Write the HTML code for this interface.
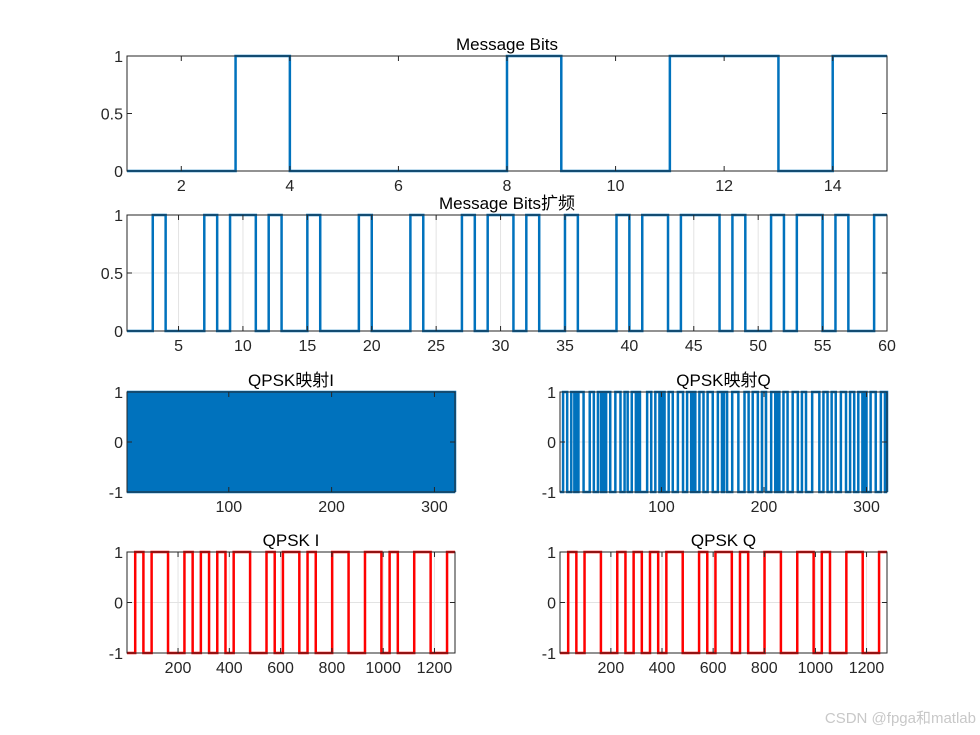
<!DOCTYPE html>
<html><head><meta charset="utf-8"><style>
html,body{margin:0;padding:0;background:#fff;}
svg{display:block;font-family:"Liberation Sans","Noto Sans CJK SC",sans-serif;}
</style></head><body>
<svg id="fig" width="980" height="735" viewBox="0 0 980 735">
<text x="976" y="723" font-size="15" fill="#c8c8c8" text-anchor="end">CSDN @fpga和matlab</text>
</svg>
<script>
// ---- data ----
const msgBits = [0,0,1,0,0,0,0,1,0,0,1,1,0,1,1];
const spreadBits = [0,0,1,0,0,0,1,0,1,1,0,1,0,0,1,0,0,0,1,0,0,0,1,0,0,0,1,0,1,1,0,1,0,0,1,0,0,0,1,0,1,1,0,1,1,1,0,1,0,0,1,0,1,1,0,1,0,0,1,1];
const qpskMapI = ("1010101010101010101010101010101010101010"+"1010101010101010101010101010101010101010"+"1010101010101010101010101010101010101010"+"1010101010101010101010101010101010101010"+"1010101010101010101010101010101010101010"+"1010101010101010101010101010101010101010"+"1010101010101010101010101010101010101010"+"1010101010101010101010101010101010101010").split("").map(Number);
const qpskMapQ = ("0001111000011101001111100000011110000111"+"0101011110000011111000011100001111010100"+"0000011110000111100101000011110000011111"+"0000111101010000111100001111100000111100"+"1110000011111100000011110000111110000111"+"1000001111010100001111000001111100001111"+"0000001111111000011110000111100000111110"+"0001111000011110101000011111000001111010").split("").map(Number);
const qpskI = [-1,1,-1,1,1,-1,-1,1,-1,1,-1,1,-1,1,1,-1,-1,1,-1,1,1,-1,1,-1,-1,1,1,-1,-1,1,1,-1,1,-1,-1,1,1,-1,-1,1];
const qpskQ = [-1,1,-1,1,1,-1,-1,1,-1,1,-1,1,-1,1,1,-1,-1,1,-1,1,1,-1,1,-1,-1,1,1,-1,-1,1,1,-1,1,-1,-1,1,1,-1,-1,1];
const samplesPerSymbol = 32;
const ticks1 = [2,4,6,8,10,12,14];
const ticks2 = [5,10,15,20,25,30,35,40,45,50,55,60];
const ticks3 = [100,200,300];
const ticks5 = [200,400,600,800,1000,1200];
const yTicks01 = [0,0.5,1];
const yTicksPM = [-1,0,1];

const NS="http://www.w3.org/2000/svg";
const fig=document.getElementById('fig');
function el(tag,attrs,parent){const e=document.createElementNS(NS,tag);for(const k in attrs)e.setAttribute(k,attrs[k]);(parent||fig).appendChild(e);return e;}

function axes(name,L,R,T,B,xmin,xmax,ymin,ymax,xt,yt,title,grid){
  const g=el('g',{});
  
  
  const sx=v=>L+(v-xmin)/(xmax-xmin)*(R-L);
  const sy=v=>B-(v-ymin)/(ymax-ymin)*(B-T);
  if(grid){
    xt.forEach(v=>{const l=el('line',{x1:sx(v),x2:sx(v),y1:T,y2:B,stroke:'#e3e3e3','stroke-width':1},g);
      
      });
    yt.forEach(v=>{const l=el('line',{x1:L,x2:R,y1:sy(v),y2:sy(v),stroke:'#e3e3e3','stroke-width':1},g);
      
      });
  }
  const plot=el('g',{},g);
  const box=el('rect',{x:L,y:T,width:R-L,height:B-T,fill:'none',stroke:'#262626','stroke-width':1},g);
  
  
  xt.forEach(v=>{
    el('line',{x1:sx(v),x2:sx(v),y1:B,y2:B-5,stroke:'#262626'},g);
    el('line',{x1:sx(v),x2:sx(v),y1:T,y2:T+5,stroke:'#262626'},g);
    const t=el('text',{x:sx(v),y:B+20,'font-size':16,fill:'#262626','text-anchor':'middle'},g);
    t.textContent=v;
    
    
  });
  yt.forEach(v=>{
    el('line',{x1:L,x2:L+5,y1:sy(v),y2:sy(v),stroke:'#262626'},g);
    el('line',{x1:R,x2:R-5,y1:sy(v),y2:sy(v),stroke:'#262626'},g);
    const t=el('text',{x:L-4,y:sy(v)+6,'font-size':16,fill:'#262626','text-anchor':'end'},g);
    t.textContent=v;
    
    
  });
  const tt=el('text',{x:(L+R)/2,y:T-6,'font-size':17,fill:'#000','text-anchor':'middle'},g);
  tt.textContent=title;
  
  
  return {sx,sy,plot};
}
function stairs(ax,xs,ys,xEnd,color,name){
  let d='';
  for(let i=0;i<ys.length;i++){
    const x0=ax.sx(xs[i]), x1=ax.sx(i+1<xs.length?xs[i+1]:xEnd), y=ax.sy(ys[i]);
    d+=(i===0?'M':'L')+x0.toFixed(2)+','+y.toFixed(2)+'L'+x1.toFixed(2)+','+y.toFixed(2);
  }
  const p=el('path',{d:d,fill:'none',stroke:color,'stroke-width':2.5,'stroke-linejoin':'miter'},ax.plot);
  
  
}
const BLUE='#0072BD', RED='#FF0000';

const a1=axes('message-bits-axes',127,887,56,171,1,15,0,1,ticks1,yTicks01,'Message Bits',false);
stairs(a1,msgBits.map((v,i)=>i+1),msgBits,15,BLUE,'message-bits-line');

const a2=axes('spread-bits-axes',127,887,215,331,1,60,0,1,ticks2,yTicks01,'Message Bits扩频',true);
stairs(a2,spreadBits.map((v,i)=>i+1),spreadBits,60,BLUE,'spread-bits-line');

const a3=axes('qpsk-map-i-axes',127,455,392,492,1,320,-1,1,ticks3,yTicksPM,'QPSK映射I',true);
stairs(a3,qpskMapI.map((v,i)=>i+1),qpskMapI.map(v=>v?1:-1),320,BLUE,'qpsk-map-i-line');

const a4=axes('qpsk-map-q-axes',560,887,392,492,1,320,-1,1,ticks3,yTicksPM,'QPSK映射Q',true);
stairs(a4,qpskMapQ.map((v,i)=>i+1),qpskMapQ.map(v=>v?1:-1),320,BLUE,'qpsk-map-q-line');

const a5=axes('qpsk-i-axes',127,455,552,653,1,1280,-1,1,ticks5,yTicksPM,'QPSK I',true);
stairs(a5,qpskI.map((v,i)=>i*samplesPerSymbol+1),qpskI,1280,RED,'qpsk-i-line');

const a6=axes('qpsk-q-axes',560,887,552,653,1,1280,-1,1,ticks5,yTicksPM,'QPSK Q',true);
stairs(a6,qpskQ.map((v,i)=>i*samplesPerSymbol+1),qpskQ,1280,RED,'qpsk-q-line');
</script>
</body></html>
